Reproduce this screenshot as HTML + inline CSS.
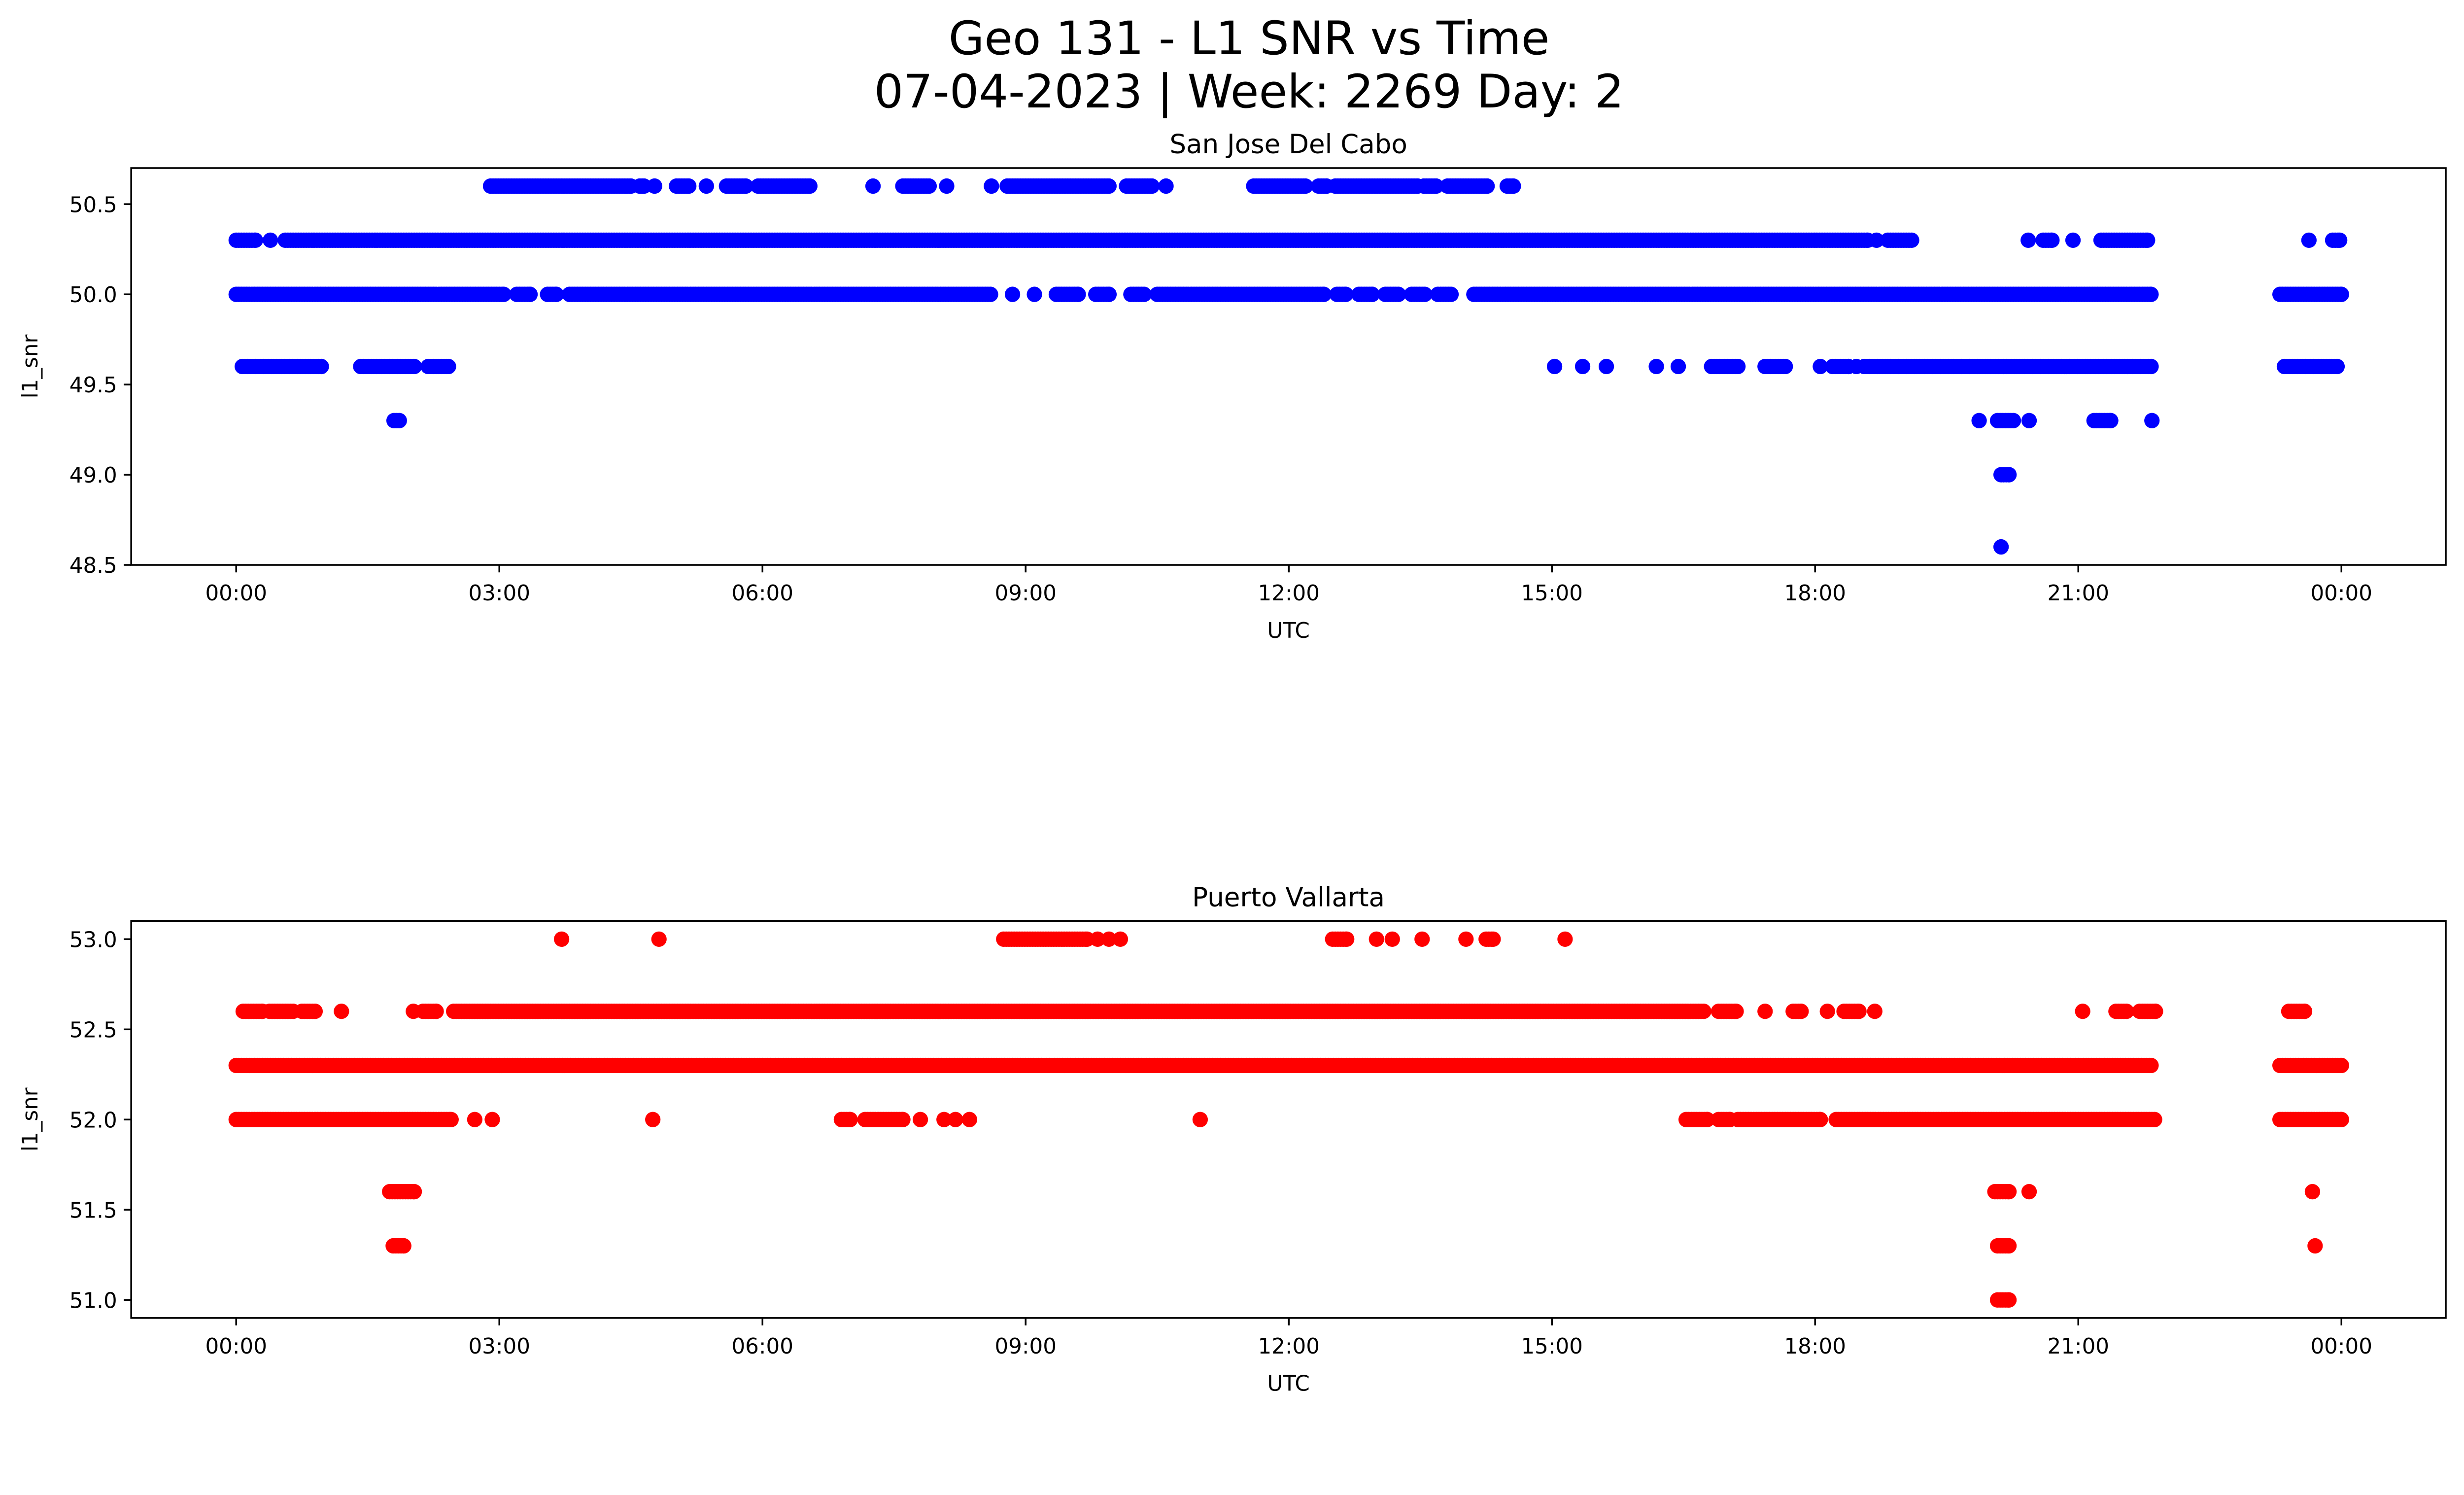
<!DOCTYPE html>
<html><head><meta charset="utf-8"><title>Geo 131 - L1 SNR vs Time</title>
<style>
html,body{margin:0;padding:0;background:#fff;overflow:hidden;}
svg{display:block;font-family:"DejaVu Sans","Liberation Sans",sans-serif;width:100vw;height:57.455vw;}
</style></head>
<body>
<svg id="fig" viewBox="0 0 5279 3033" preserveAspectRatio="none" xmlns="http://www.w3.org/2000/svg">
<rect width="5279" height="3033" fill="#fff"/>
<text x="2676" y="116" font-size="99" text-anchor="middle">Geo 131 - L1 SNR vs Time</text>
<text x="2676" y="230" font-size="99" text-anchor="middle">07-04-2023 | Week: 2269 Day: 2</text>
</svg>
<script>
// ---- data (hours UTC, SNR levels) ----
const xTickHours = [0,3,6,9,12,15,18,21,24];
const xTickLabels = ["00:00","03:00","06:00","09:00","12:00","15:00","18:00","21:00","00:00"];
const sjdYTicks = [48.5,49.0,49.5,50.0,50.5];
const pvYTicks = [51.0,51.5,52.0,52.5,53.0];
const sjdLevels = [50.6,50.3,50.0,49.6,49.3,49.0,48.6];
const sjdRuns = [
 [[2.9,4.5],[4.6,4.65],[4.77,4.77],[5.02,5.16],[5.36,5.36],[5.59,5.81],[5.95,6.54],[7.26,7.26],[7.6,7.9],[8.1,8.1],[8.61,8.61],[8.79,9.95],[10.15,10.44],[10.6,10.6],[11.6,12.19],[12.34,12.43],[12.53,13.47],[13.54,13.68],[13.81,14.26],[14.49,14.56]],
 [[0,0.22],[0.39,0.39],[0.56,18.6],[18.7,18.7],[18.83,19.1],[20.43,20.43],[20.6,20.7],[20.94,20.94],[21.26,21.79],[23.63,23.63],[23.9,23.98]],
 [[0,3.05],[3.2,3.35],[3.55,3.65],[3.8,8.6],[8.85,8.85],[9.1,9.1],[9.35,9.6],[9.8,9.95],[10.2,10.35],[10.5,12.4],[12.55,12.65],[12.8,12.95],[13.1,13.25],[13.4,13.55],[13.7,13.85],[14.11,21.83],[23.3,24.0]],
 [[0.07,0.97],[1.42,2.03],[2.19,2.42],[15.03,15.03],[15.35,15.35],[15.62,15.62],[16.19,16.19],[16.44,16.44],[16.82,17.12],[17.43,17.66],[18.06,18.06],[18.2,18.38],[18.47,18.47],[18.56,21.83],[23.35,23.95]],
 [[1.8,1.86],[19.87,19.87],[20.08,20.26],[20.44,20.44],[21.18,21.37],[21.84,21.84]],
 [[20.12,20.21]],
 [[20.12,20.12]]
];
const pvLevels = [53.0,52.6,52.3,52.0,51.6,51.3,51.0];
const pvRuns = [
 [[3.71,3.71],[4.82,4.82],[8.75,9.7],[9.82,9.82],[9.95,9.95],[10.08,10.08],[12.5,12.66],[13.0,13.0],[13.18,13.18],[13.52,13.52],[14.02,14.02],[14.25,14.33],[15.15,15.15]],
 [[0.08,0.3],[0.38,0.65],[0.75,0.9],[1.2,1.2],[2.02,2.02],[2.13,2.28],[2.48,16.73],[16.9,17.1],[17.43,17.43],[17.75,17.84],[18.14,18.14],[18.33,18.5],[18.68,18.68],[21.05,21.05],[21.43,21.55],[21.7,21.88],[23.4,23.58]],
 [[0,21.83],[23.3,24.0]],
 [[0,2.45],[2.72,2.72],[2.92,2.92],[4.75,4.75],[6.9,7.0],[7.17,7.6],[7.8,7.8],[8.07,8.07],[8.2,8.2],[8.36,8.36],[10.99,10.99],[16.53,16.77],[16.9,17.03],[17.12,18.06],[18.24,21.87],[23.3,24.0]],
 [[1.75,2.03],[20.05,20.21],[20.44,20.44],[23.67,23.67]],
 [[1.79,1.91],[20.08,20.21],[23.7,23.7]],
 [[20.08,20.21]]
];

const NS = "http://www.w3.org/2000/svg";
const svg = document.getElementById('fig');
function mk(tag, attrs, parent){
  const e = document.createElementNS(NS, tag);
  for (const k in attrs) e.setAttribute(k, attrs[k]);
  (parent||svg).appendChild(e);
  return e;
}
const L = 281, R = 5240, X0 = -1.197, X1 = 25.19;
const xs = h => L + (h - X0) / (X1 - X0) * (R - L);

function panel(cfg){
  const g = mk('g', {});
  
  
  const ys = v => cfg.bottom - (v - cfg.ymin) / (cfg.ymax - cfg.ymin) * (cfg.bottom - cfg.top);
  const pts = mk('g', {fill: cfg.color}, g);
  
  
  cfg.levels.forEach((lv, i) => {
    cfg.runs[i].forEach(run => {
      const step = 0.03;
      for (let h = run[0]; h <= run[1] + 1e-9; h += step) {
        const c = mk('circle', {cx: xs(h).toFixed(1), cy: ys(lv).toFixed(1), r: 16.5}, pts);
        
        
      }
      if ((run[1] - run[0]) % step > 0.005) {
        const c = mk('circle', {cx: xs(run[1]).toFixed(1), cy: ys(lv).toFixed(1), r: 16.5}, pts);
        
        
      }
    });
  });
  const fr = mk('rect', {x: L, y: cfg.top, width: R - L, height: cfg.bottom - cfg.top, fill: 'none', stroke: '#000', 'stroke-width': 3.7}, g);
  
  
  xTickHours.forEach((h, i) => {
    const x = xs(h);
    const t = mk('line', {x1: x, x2: x, y1: cfg.bottom, y2: cfg.bottom + 16, stroke: '#000', 'stroke-width': 3.7}, g);
    
    
    const tx = mk('text', {x: x, y: cfg.bottom + 76, 'font-size': 46, 'text-anchor': 'middle'}, g);
    
    
    tx.textContent = xTickLabels[i];
  });
  cfg.yticks.forEach(v => {
    const y = ys(v);
    const t = mk('line', {x1: L - 16, x2: L, y1: y, y2: y, stroke: '#000', 'stroke-width': 3.7}, g);
    
    
    const tx = mk('text', {x: L - 30, y: y + 17, 'font-size': 46, 'text-anchor': 'end'}, g);
    
    
    tx.textContent = v.toFixed(1);
  });
  const xl = mk('text', {x: (L + R) / 2, y: cfg.bottom + 156, 'font-size': 46, 'text-anchor': 'middle'}, g);
  
  
  xl.textContent = 'UTC';
  const yc = (cfg.top + cfg.bottom) / 2;
  const yl = mk('text', {x: 0, y: 0, 'font-size': 46, 'text-anchor': 'middle', transform: `translate(80,${yc}) rotate(-90)`}, g);
  
  
  yl.textContent = 'l1_snr';
  const ti = mk('text', {x: (L + R) / 2, y: cfg.top - 32, 'font-size': 56, 'text-anchor': 'middle'}, g);
  
  
  ti.textContent = cfg.title;
}

panel({name: 'san-jose-del-cabo-panel', title: 'San Jose Del Cabo', top: 360, bottom: 1210, ymin: 48.5, ymax: 50.7, yticks: sjdYTicks, levels: sjdLevels, runs: sjdRuns, color: '#0000ff'});
panel({name: 'puerto-vallarta-panel', title: 'Puerto Vallarta', top: 1973, bottom: 2823, ymin: 50.9, ymax: 53.1, yticks: pvYTicks, levels: pvLevels, runs: pvRuns, color: '#ff0000'});
</script>
</body></html>
